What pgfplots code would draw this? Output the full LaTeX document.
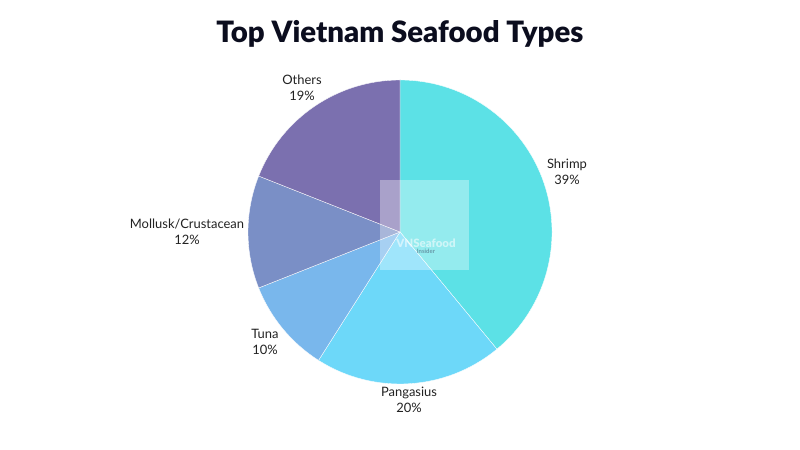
\documentclass[border=0pt]{standalone}
\usepackage{fontspec}
\setmainfont{Lato}
\newfontfamily\titlefont{Lato Black}
\usepackage{pgfplots}
\usepackage{pgfplotstable}
\pgfplotsset{compat=1.18}
\definecolor{cShrimp}{HTML}{5CE1E6}
\definecolor{cPanga}{HTML}{6DD8F9}
\definecolor{cTuna}{HTML}{79B7EC}
\definecolor{cMoll}{HTML}{7A8FC6}
\definecolor{cOther}{HTML}{7B70AF}
\definecolor{txt}{HTML}{222222}
\definecolor{ttl}{HTML}{0B0D1E}
\pgfplotstableread{
name pct lx ly col
Shrimp 39 567 278 cShrimp
Pangasius 20 409 50 cPanga
Tuna 10 265 108 cTuna
Mollusk/Crustacean 12 187 218 cMoll
Others 19 302 362 cOther
}\datatable
\begin{document}
\begin{tikzpicture}
\begin{axis}[width=800bp,height=450bp,scale only axis,
  xmin=0,xmax=800,ymin=0,ymax=450,hide axis,clip=false]
\fill[white] (axis cs:0,0) rectangle (axis cs:800,450);
\node[font=\titlefont\fontsize{29.5}{33}\selectfont,text=ttl] at (axis cs:400,416) {Top Vietnam Seafood Types};
\def\a{90}
\pgfplotsforeachungrouped \i in {0,...,4}{
  \pgfplotstablegetelem{\i}{pct}\of\datatable \let\p\pgfplotsretval
  \pgfplotstablegetelem{\i}{col}\of\datatable \let\c\pgfplotsretval
  \pgfplotstablegetelem{\i}{name}\of\datatable \let\n\pgfplotsretval
  \pgfplotstablegetelem{\i}{lx}\of\datatable \let\lx\pgfplotsretval
  \pgfplotstablegetelem{\i}{ly}\of\datatable \let\ly\pgfplotsretval
  \pgfmathsetmacro\b{\a-3.6*\p}
  \pgfmathsetmacro\sx{400+152*cos(\a)}
  \pgfmathsetmacro\sy{218+152*sin(\a)}
  \edef\temp{\noexpand\fill[\c, draw=white, line width=0.35pt] (axis cs:400,218) -- (axis cs:\sx,\sy) arc[start angle=\a, end angle=\b, radius=152bp] -- cycle;
  \noexpand\node[align=center,font=\noexpand\fontsize{13}{16.5}\noexpand\selectfont,text=txt] at (axis cs:\lx,\ly) {\n\noexpand\\\p\noexpand\%};}
  \temp
  \let\a\b
}
\fill[white, opacity=0.35] (axis cs:380,180) rectangle (axis cs:469,270);
\node[font=\titlefont\fontsize{11.5}{12}\selectfont,text=white,opacity=0.55] at (axis cs:426,207) {VNSeafood};
\node[font=\bfseries\fontsize{6}{7}\selectfont,text=cMoll!50!black,opacity=0.5] at (axis cs:426,198.5) {Insider};
\end{axis}
\end{tikzpicture}
\end{document}
